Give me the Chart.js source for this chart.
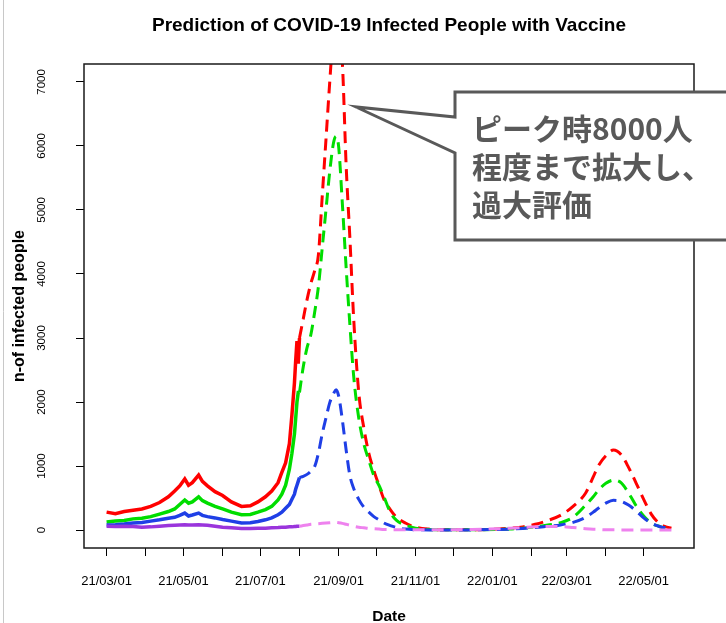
<!DOCTYPE html>
<html>
<head>
<meta charset="utf-8">
<title>Prediction of COVID-19 Infected People with Vaccine</title>
<script src="https://cdn.jsdelivr.net/npm/chart.js@4.4.0/dist/chart.umd.min.js"></script>
<style>
  html, body { margin: 0; padding: 0; background: #fff; }
</style>
</head>
<body>
<canvas id="chart" width="726" height="623"></canvas>
<script>
// Data (x = days since 2021/03/01)
const obsDays = [0, 7, 14, 21, 28, 35, 42, 49, 54, 58, 62, 65, 68, 73, 76, 80, 86, 92, 99, 107,
    114, 120, 126, 131, 136, 139, 142, 145, 147, 149, 150, 151, 152, 153];
const redObs = [280, 255, 290, 310, 330, 370, 430, 520, 610, 690, 800, 700, 740, 860, 760, 690, 600, 540, 440, 370,
    380, 440, 520, 610, 740, 900, 1050, 1350, 1800, 2300, 2650, 2950, 2600, 3000];
const greenObs = [125, 140, 150, 175, 185, 210, 250, 290, 330, 400, 470, 420, 440, 520, 460, 420, 370, 330, 280, 240,
    245, 280, 320, 370, 470, 560, 700, 950, 1200, 1500, 1750, 2000, 2150, 2150];
const blueObs = [80, 85, 95, 110, 120, 140, 160, 185, 200, 230, 265, 220, 235, 265, 230, 210, 190, 165, 140, 110,
    115, 135, 160, 190, 240, 280, 340, 400, 480, 560, 640, 700, 760, 820];
const purpleObs = [60, 55, 60, 55, 45, 50, 60, 70, 75, 80, 85, 80, 80, 85, 80, 75, 60, 45, 35, 25,
    25, 30, 30, 35, 40, 45, 45, 50, 50, 55, 55, 60, 60, 60];

const predDays = [153, 156, 159, 162, 165, 168, 171, 174, 177, 180,
    182, 184, 187, 190, 193, 196, 200, 204, 208, 212,
    216, 220, 225, 230, 237, 245, 255, 270, 290, 310,
    320, 330, 340, 350, 360, 370, 380, 386, 390, 396,
    402, 408, 414, 420, 426, 432, 438, 443, 448];
const redPred = [3000, 3300, 3600, 3850, 4050, 4300, 5200, 6100, 7000, 7800,
    8000, 7800, 7300, 5700, 4550, 3300, 2150, 1600, 1200, 930,
    700, 480, 320, 200, 110, 45, 15, 5, 5, 15,
    30, 50, 90, 150, 230, 370, 580, 830, 1000, 1160,
    1250, 1180, 980, 735, 480, 250, 110, 55, 30];
const greenPred = [2150, 2550, 2850, 3050, 3400, 3800, 4400, 5000, 5600, 6050,
    6150, 6000, 5100, 4100, 3200, 2400, 1750, 1350, 1090, 850,
    700, 520, 280, 150, 80, 30, 10, 5, 5, 10,
    15, 30, 50, 80, 115, 200, 390, 520, 620, 730,
    780, 740, 580, 380, 220, 110, 60, 30, 20];
const bluePred = [820, 840, 870, 920, 990, 1200, 1500, 1750, 1990, 2130,
    2190, 2100, 1720, 1250, 850, 650, 480, 360, 280, 210,
    160, 110, 70, 40, 15, 5, 3, 3, 3, 10,
    15, 25, 40, 60, 80, 120, 200, 280, 340, 420,
    465, 450, 390, 300, 190, 110, 60, 35, 25];
const violetPred = [60, 70, 80, 90, 95, 100, 105, 110, 115, 120,
    120, 115, 105, 90, 75, 60, 45, 35, 25, 20,
    15, 10, 8, 5, 5, 5, 5, 5, 10, 20,
    30, 40, 50, 55, 55, 40, 20, 12, 10, 5,
    5, 3, 3, 3, 3, 3, 3, 3, 3];

// Axis ticks
const monthTicks = [0, 31, 61, 92, 122, 153, 184, 214, 245, 275, 306, 337, 365, 396, 426];
const monthLabels = ['21/03/01', '', '21/05/01', '', '21/07/01', '', '21/09/01', '', '21/11/01', '',
    '22/01/01', '', '22/03/01', '', '22/05/01'];
const yTicks = [0, 1000, 2000, 3000, 4000, 5000, 6000, 7000];

const calloutLines = ['ピーク時8000人', '程度まで拡大し、', '過大評価'];

// R style axis range (4% extension)
const lastDay = predDays[predDays.length - 1];
const X_MIN = -0.04 * lastDay;
const X_MAX = lastDay * 1.04;
const Y_MIN = -0.04 * 7000;
const Y_MAX = 7000 * 1.04;

Chart.defaults.font.family = '"Liberation Sans", Arial, sans-serif';
Chart.defaults.color = '#000';

function toPoints(days, values) {
    return days.map((d, i) => ({ x: d, y: values[i] }));
}

function obsSet(label, values, color) {
    return {
        label: label,
        data: toPoints(obsDays, values),
        borderColor: color,
        borderWidth: 3.5,
        pointRadius: 0,
        tension: 0,
        fill: false
    };
}

function predSet(label, values, color) {
    return {
        label: label,
        data: toPoints(predDays, values),
        borderColor: color,
        borderWidth: 3,
        borderDash: [12, 7],
        pointRadius: 0,
        cubicInterpolationMode: 'monotone',
        fill: false
    };
}

// Box around the plot + callout bubble
const frameAndCallout = {
    id: 'frameAndCallout',
    afterDatasetsDraw(chart) {
        const { ctx, chartArea: a } = chart;
        ctx.save();
        ctx.strokeStyle = '#1a1a1a';
        ctx.lineWidth = 1.5;
        ctx.strokeRect(a.left, a.top, a.right - a.left, a.bottom - a.top);
        ctx.restore();
    },
    afterDraw(chart) {
        const { ctx } = chart;
        ctx.save();
        // page edge line
        ctx.strokeStyle = '#c8c8c8';
        ctx.lineWidth = 1;
        ctx.beginPath();
        ctx.moveTo(3.5, 0);
        ctx.lineTo(3.5, 623);
        ctx.stroke();

        // bubble
        ctx.beginPath();
        ctx.moveTo(455, 92);
        ctx.lineTo(745, 92);
        ctx.lineTo(745, 240);
        ctx.lineTo(455, 240);
        ctx.lineTo(455, 153);
        ctx.lineTo(356, 107);
        ctx.lineTo(455, 117);
        ctx.closePath();
        ctx.fillStyle = '#fff';
        ctx.fill();
        ctx.strokeStyle = '#595959';
        ctx.lineWidth = 3;
        ctx.lineJoin = 'miter';
        ctx.stroke();

        ctx.fillStyle = '#595959';
        ctx.font = 'bold 30px "Noto Sans CJK JP"';
        ctx.textBaseline = 'middle';
        ctx.textAlign = 'left';
        calloutLines.forEach((line, i) => {
            ctx.fillText(line, 472, 129 + i * 38);
        });
        ctx.restore();
    }
};

// Chart
const chart = new Chart(document.getElementById('chart'), {
    type: 'line',
    data: {
        datasets: [
            predSet('violet', violetPred, '#ee82ee'),
            obsSet('purple', purpleObs, '#9a35dc'),
            predSet('blue pred', bluePred, '#1f3fe6'),
            obsSet('blue', blueObs, '#1f3fe6'),
            predSet('green pred', greenPred, '#00dd00'),
            obsSet('green', greenObs, '#00dd00'),
            predSet('red pred', redPred, '#ff0000'),
            obsSet('red', redObs, '#ff0000')
        ]
    },
    options: {
        responsive: false,
        animation: false,
        layout: { padding: { left: 0, right: 32, top: 0, bottom: 0 } },
        plugins: {
            legend: { display: false },
            tooltip: { enabled: false },
            title: {
                display: true,
                fullSize: false,
                text: 'Prediction of COVID-19 Infected People with Vaccine',
                color: '#000',
                font: { size: 19, weight: 'bold', lineHeight: 1.2 },
                padding: { top: 14, bottom: 27.2 }
            }
        },
        scales: {
            x: {
                type: 'linear',
                min: X_MIN,
                max: X_MAX,
                afterBuildTicks: (scale) => {
                    scale.ticks = monthTicks.map(v => ({ value: v }));
                },
                afterFit: (scale) => { scale.height = 75; },
                ticks: {
                    autoSkip: false,
                    maxRotation: 0,
                    minRotation: 0,
                    padding: 18,
                    font: { size: 13 },
                    callback: (v, i) => monthLabels[i]
                },
                grid: { drawOnChartArea: false, drawTicks: true, tickLength: 8, color: '#000', lineWidth: 1 },
                border: { display: false },
                title: {
                    display: true,
                    text: 'Date',
                    font: { size: 15.5, weight: 'bold', lineHeight: 1 },
                    padding: { top: 0, bottom: -1 }
                }
            },
            y: {
                min: Y_MIN,
                max: Y_MAX,
                afterBuildTicks: (scale) => {
                    scale.ticks = yTicks.map(v => ({ value: v }));
                },
                afterFit: (scale) => { scale.width = 84; },
                ticks: {
                    minRotation: 90,
                    maxRotation: 90,
                    crossAlign: 'center',
                    padding: 21,
                    font: { size: 11.5 },
                    callback: (v) => String(v)
                },
                grid: { drawOnChartArea: false, drawTicks: true, tickLength: 8, color: '#000', lineWidth: 1 },
                border: { display: false },
                title: {
                    display: true,
                    text: 'n-of infected people',
                    font: { size: 16, weight: 'bold' },
                    padding: { top: 9.5, bottom: 0 }
                }
            }
        }
    },
    plugins: [frameAndCallout]
});
</script>
</body>
</html>
